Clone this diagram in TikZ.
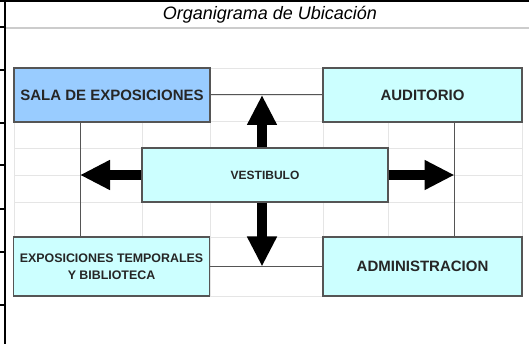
\documentclass[tikz,border=0pt]{standalone}
\usepackage{fontspec}
\setsansfont{Liberation Sans}
\usetikzlibrary{arrows.meta}

\definecolor{salablue}{HTML}{99CCFF}
\definecolor{roomcyan}{HTML}{CCFFFF}
\definecolor{framegray}{HTML}{555555}

\begin{document}
\begin{tikzpicture}[x=1pt,y=-1pt,
	room/.style={draw=framegray,line width=1.1pt,fill=roomcyan,align=center,
		font=\sffamily\bfseries\fontsize{15}{17}\selectfont,text=black!85,inner sep=0pt},
	link/.style={draw=framegray,line width=1pt},
	bigarrow/.style={line width=10pt,-{Triangle[width=28pt,length=30pt]}}]
	\useasboundingbox (0,0) rectangle (529,344);

	% hoja de calculo
	\foreach \x in {14,80,142,210,323,388,454,522}
		\draw[black!10,line width=0.8pt] (\x,68) -- (\x,296);
	\foreach \y in {68,95,121,148,175,202,237,266,296}
		\draw[black!10,line width=0.8pt] (14,\y) -- (522,\y);
	\draw[line width=2pt] (0,1) -- (529,1);
	\draw[line width=2pt] (5,0) -- (5,344);
	\foreach \y in {27,70,123,165,209,252,305}
		\draw[line width=1.5pt] (0,\y) -- (5,\y);
	\draw[black!20,line width=1.5pt] (6,28) -- (529,28);

	\node (titulo) at (270,15) {\sffamily\itshape\fontsize{18}{20}\selectfont Organigrama de Ubicación};

	\node[room,fill=salablue,minimum width=196pt,minimum height=54pt] (sala) at (112,95) {SALA DE EXPOSICIONES};
	\node[room,minimum width=199pt,minimum height=54pt] (audi) at (422.5,95) {AUDITORIO};
	\node[room,minimum width=246pt,minimum height=54pt,font=\sffamily\bfseries\fontsize{12}{14}\selectfont] (vest) at (265,175) {VESTIBULO};
	\node[room,minimum width=196pt,minimum height=59pt,font=\sffamily\bfseries\fontsize{12.4}{17}\selectfont] (expo) at (111.5,266.5) {EXPOSICIONES TEMPORALES\\Y BIBLIOTECA};
	\node[room,minimum width=199pt,minimum height=59pt] (admin) at (422.5,266.5) {ADMINISTRACION};

	\coordinate (sl) at ([xshift=-32pt]sala.south);
	\coordinate (al) at ([xshift=32pt]audi.south);

	\draw[link] (sala.east) -- (audi.west);
	\draw[link] (expo.east) -- (admin.west);
	\draw[link] (sl) -- (sl |- expo.north);
	\draw[link] (al) -- (al |- admin.north);

	\draw[bigarrow] ([xshift=-3pt]vest.north) -- ([xshift=-3pt]vest.north |- sala.east);
	\draw[bigarrow] ([xshift=-3pt]vest.south) -- ([xshift=-3pt]vest.south |- expo.east);
	\draw[bigarrow] (vest.west) -- (vest.west -| sl);
	\draw[bigarrow] (vest.east) -- (vest.east -| al);

\end{tikzpicture}
\end{document}
